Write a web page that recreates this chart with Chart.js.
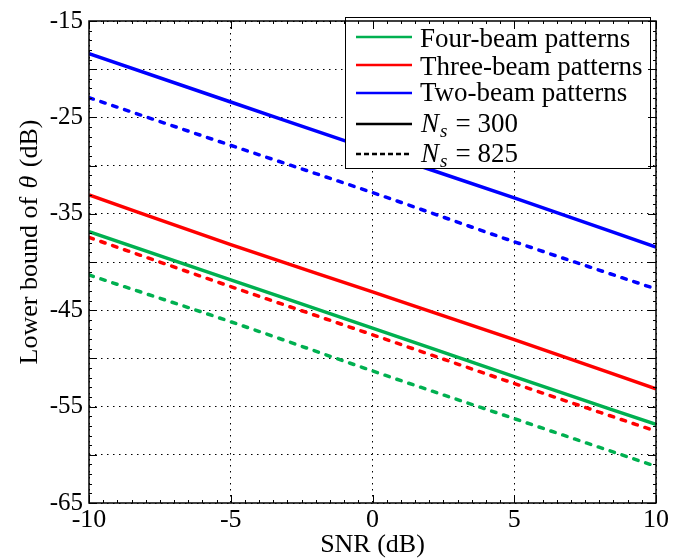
<!DOCTYPE html>
<html>
<head>
<meta charset="utf-8">
<script src="https://cdn.jsdelivr.net/npm/chart.js@4/dist/chart.umd.min.js"></script>
<style>
html,body{margin:0;padding:0;background:#fff;}
#wrap{width:697px;height:560px;position:relative;}
</style>
</head>
<body>
<div id="wrap"><canvas id="c" width="697" height="560"></canvas></div>
<script>
// ---- data ----
const snr = [-10, -5, 0, 5, 10];
const fourNs300  = [-36.85, -41.85, -46.85, -51.9, -56.85];
const fourNs825  = [-41.35, -46.2, -51.3, -56.25, -61.2];
const threeNs300 = [-33.05, -38.2, -43.1, -48.05, -53.15];
const threeNs825 = [-37.45, -42.55, -47.55, -52.6, -57.55];
const twoNs300   = [-18.4, -23.4, -28.4, -33.35, -38.45];
const twoNs825   = [-22.95, -27.9, -32.8, -37.9, -42.8];
const patternLabels = ['Four-beam patterns', 'Three-beam patterns', 'Two-beam patterns'];
const nsValues = [300, 825];
const xTitle = 'SNR (dB)';
const yTitleParts = ['Lower bound of ', 'θ', ' (dB)'];

const GREEN = '#00b050', RED = '#ff0000', BLUE = '#0000ff';
const SERIF = "'Liberation Serif','Times New Roman',serif";

function pts(ys){ return snr.map((x,i)=>({x:x, y:ys[i]})); }
function ds(ys, color, dashed){
  return {data: pts(ys), borderColor: color, borderWidth: 3.5, pointRadius: 0,
    borderDash: dashed ? [4.5, 8] : [], borderCapStyle: dashed ? 'round' : 'butt',
    cubicInterpolationMode: 'monotone', fill: false};
}

const frame = {
  id: 'frame',
  afterDatasetsDraw(chart){
    const ctx = chart.ctx, a = chart.chartArea;
    const xs = chart.scales.x, ys = chart.scales.y;
    ctx.save();
    // legend box
    const lx0 = 345, ly0 = 17, lx1 = 650, ly1 = 168;
    ctx.fillStyle = '#fff';
    ctx.fillRect(lx0, ly0, lx1-lx0, ly1-ly0);
    ctx.strokeStyle = '#000'; ctx.lineWidth = 1; ctx.setLineDash([]);
    ctx.strokeRect(lx0+0.5, ly0+0.5, lx1-lx0, ly1-ly0);
    const colors = [GREEN, RED, BLUE];
    const lineYs = [37, 65, 93, 124, 154];
    const baseYs = [46.5, 75, 101, 132, 161.5];
    ctx.textBaseline = 'alphabetic'; ctx.textAlign = 'left'; ctx.fillStyle = '#000';
    for (let i=0;i<3;i++){
      ctx.strokeStyle = colors[i]; ctx.lineWidth = 2.7; ctx.setLineDash([]);
      ctx.beginPath(); ctx.moveTo(356, lineYs[i]); ctx.lineTo(412, lineYs[i]); ctx.stroke();
      ctx.font = '27px ' + SERIF; ctx.fillStyle = '#000';
      ctx.fillText(patternLabels[i], 420, baseYs[i]);
    }
    for (let j=0;j<2;j++){
      const y = lineYs[3+j];
      ctx.strokeStyle = '#000'; ctx.lineWidth = 2.7;
      ctx.setLineDash(j===0 ? [] : [5, 3]);
      ctx.beginPath(); ctx.moveTo(356, y); ctx.lineTo(412, y); ctx.stroke();
      ctx.setLineDash([]);
      const by = baseYs[3+j];
      let x = 421;
      ctx.font = 'italic 27px ' + SERIF;
      ctx.fillText('N', x, by); x += ctx.measureText('N').width + 1;
      ctx.font = 'italic 19px ' + SERIF;
      ctx.fillText('s', x, by + 5); x += ctx.measureText('s').width + 2;
      ctx.font = '27px ' + SERIF;
      ctx.fillText('= ' + nsValues[j], x + 6, by);
    }
    // tick marks (inward) on all four sides
    ctx.strokeStyle = '#000'; ctx.lineWidth = 1; ctx.setLineDash([]);
    ctx.beginPath();
    for (let v = ys.min; v <= ys.max + 1e-9; v += 1){
      const y = Math.round(ys.getPixelForValue(v)) + 0.5;
      const L = (Math.abs(v % 5) < 1e-9) ? 8 : 3;
      ctx.moveTo(a.left, y); ctx.lineTo(a.left + L, y);
      ctx.moveTo(a.right, y); ctx.lineTo(a.right - L, y);
    }
    for (let v = xs.min; v <= xs.max + 1e-9; v += 0.5){
      const x = Math.round(xs.getPixelForValue(v)) + 0.5;
      const L = (Math.abs(v % 5) < 1e-9) ? 8 : 3;
      ctx.moveTo(x, a.bottom); ctx.lineTo(x, a.bottom - L);
      ctx.moveTo(x, a.top); ctx.lineTo(x, a.top + L);
    }
    ctx.stroke();
    // box
    ctx.lineWidth = 1.5;
    ctx.strokeRect(a.left, a.top, a.right - a.left, a.bottom - a.top);
    // axis titles
    ctx.fillStyle = '#000';
    ctx.font = '26px ' + SERIF; ctx.textAlign = 'center'; ctx.textBaseline = 'alphabetic';
    ctx.fillText(xTitle, (a.left + a.right)/2, 552);
    ctx.translate(37, 242);
    ctx.rotate(-Math.PI/2);
    const fonts = ['26px ' + SERIF, 'italic 26px ' + SERIF, '26px ' + SERIF];
    let total = 0;
    const widths = yTitleParts.map((t,i)=>{ ctx.font = fonts[i]; const w = ctx.measureText(t).width + (i===1?4:0); total += w; return w; });
    let px = -total/2;
    ctx.textAlign = 'left';
    yTitleParts.forEach((t,i)=>{ ctx.font = fonts[i]; ctx.fillText(t, px + (i===1?2:0), 0); px += widths[i]; });
    ctx.restore();
  }
};

new Chart(document.getElementById('c'), {
  type: 'line',
  data: { datasets: [
    ds(twoNs300, BLUE, false), ds(twoNs825, BLUE, true),
    ds(threeNs300, RED, false), ds(threeNs825, RED, true),
    ds(fourNs300, GREEN, false), ds(fourNs825, GREEN, true)
  ]},
  options: {
    responsive: false, animation: false, devicePixelRatio: 1,
    layout: { padding: { top: 14, right: 41, left: 0, bottom: 0 } },
    plugins: { legend: { display: false }, tooltip: { enabled: false } },
    scales: {
      x: { type: 'linear', min: -10, max: 10,
        ticks: { stepSize: 5, color: '#000', font: { family: SERIF, size: 26 }, padding: 2, maxRotation: 0 },
        grid: { color: '#000', lineWidth: 1, drawTicks: false },
        border: { display: false, dash: [1.5, 4.5] },
        afterFit(s){ s.height = 57; } },
      y: { type: 'linear', min: -65, max: -15,
        ticks: { stepSize: 5, color: '#000', font: { family: SERIF, size: 25 }, padding: 6,
          callback: v => (Math.abs(v % 10) === 5 ? String(v) : '') },
        grid: { color: '#000', lineWidth: 1, drawTicks: false },
        border: { display: false, dash: [1.5, 4.5] },
        afterFit(s){ s.width = 89; } }
    }
  },
  plugins: [frame]
});
</script>
</body>
</html>
